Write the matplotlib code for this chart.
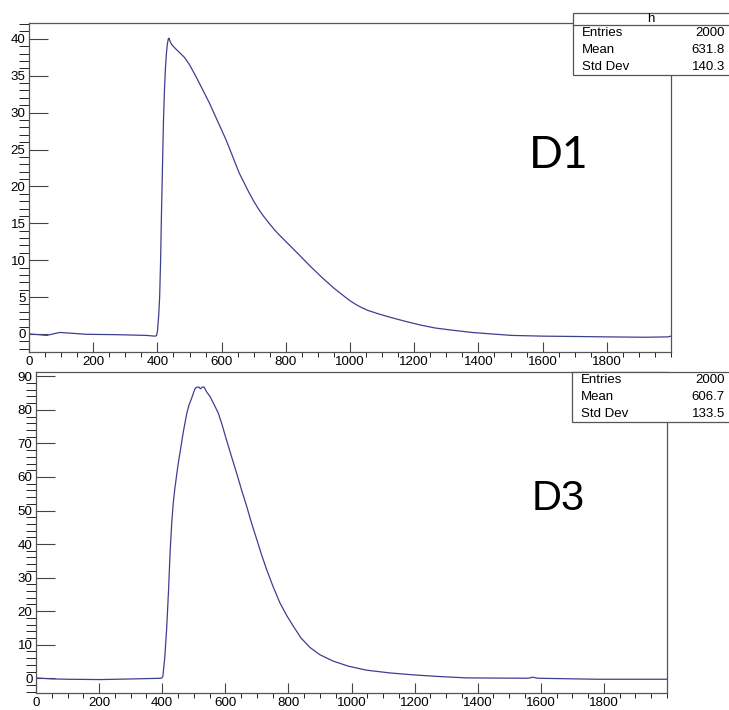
import matplotlib
matplotlib.use("Agg")
import matplotlib.pyplot as plt
from matplotlib.patches import Rectangle
from matplotlib.ticker import MultipleLocator

plt.rcParams['font.family'] = ['Liberation Sans', 'DejaVu Sans']

# D1 waveform (bin position, content)
d1_x = [0, 30, 55, 75, 96, 130, 179, 272, 365, 392, 397, 400, 404, 407, 410, 413, 416, 419,
        422, 425, 428, 431, 434, 436, 440, 445, 458, 470, 484, 500, 520, 540, 562, 588, 614,
        635, 655, 685, 700, 717, 730, 748, 765, 780, 810, 842, 878, 914, 950, 985, 1000,
        1018, 1035, 1055, 1090, 1130, 1173, 1220, 1266, 1320, 1380, 1440, 1504, 1600, 1711,
        1800, 1918, 1990, 2000]
d1_y = [0.0, -0.1, -0.2, 0.0, 0.2, 0.1, -0.05, -0.1, -0.2, -0.3, -0.25, 0.3, 2.5, 5, 10, 17,
        23, 29, 33, 36, 38, 39.3, 40.0, 40.1, 39.6, 39.2, 38.6, 38.1, 37.5, 36.5, 34.9, 33.2,
        31.3, 28.8, 26.3, 24.0, 21.8, 19.2, 18.0, 16.8, 16.0, 15.0, 14.1, 13.4, 12.1, 10.7,
        9.1, 7.6, 6.2, 5.0, 4.5, 4.0, 3.6, 3.2, 2.7, 2.2, 1.7, 1.2, 0.8, 0.5, 0.2, 0.0,
        -0.2, -0.3, -0.35, -0.4, -0.45, -0.4, -0.3]

# D3 waveform
d3_x = [0, 50, 100, 203, 308, 398, 402, 408, 414, 420, 425, 430, 435, 440, 445, 450, 456,
        467, 478, 485, 493, 500, 505, 511, 516, 521, 527, 533, 540, 552, 565, 578, 590, 604,
        620, 636, 652, 668, 684, 700, 715, 731, 752, 773, 794, 815, 840, 868, 900, 942, 990,
        1048, 1120, 1196, 1280, 1365, 1560, 1575, 1590, 1777, 2000]
d3_y = [0.1, -0.2, -0.3, -0.4, -0.2, 0.0, 0.5, 6, 14.6, 26, 37.4, 46, 52.2, 56.5, 60, 63.5,
        67, 73.5, 79, 81.5, 83.4, 85.3, 86.5, 86.8, 86.8, 86.3, 86.8, 86.8, 85.5, 83.9, 81.5,
        79, 75.5, 71, 66, 61.1, 56, 51.2, 46, 41.3, 36.8, 32.4, 27.2, 22.5, 18.8, 15.6, 12.0,
        9.2, 7.0, 5.1, 3.6, 2.4, 1.6, 1.0, 0.5, 0.1, 0.0, 0.3, 0.0, -0.3, -0.3]

stats_labels = ['Entries', 'Mean', 'Std Dev']
d1_stats = ['2000', '631.8', '140.3']
d3_stats = ['2000', '606.7', '133.5']

W, H = 729, 710
fig = plt.figure(figsize=(W / 100, H / 100), dpi=100)


def box(l, t, r, b):
    return [l / W, 1 - b / H, (r - l) / W, (b - t) / H]


def style(ax, ymajor, ylim):
    ax.set_xlim(0, 2000)
    ax.set_ylim(*ylim)
    ax.xaxis.set_minor_locator(MultipleLocator(50))
    ax.yaxis.set_major_locator(MultipleLocator(ymajor))
    ax.yaxis.set_minor_locator(MultipleLocator(ymajor / 5))
    ax.set_xticks(range(0, 2000, 200))
    ax.tick_params(axis='both', direction='in', labelsize=9.6, colors='#444444',
                   labelcolor='black', width=0.8)
    ax.tick_params(axis='x', which='major', length=7.2, pad=3)
    ax.tick_params(axis='x', which='minor', length=3.6)
    ax.tick_params(axis='y', which='major', length=13.7, pad=2.5)
    ax.tick_params(axis='y', which='minor', length=7.2)
    for s in ax.spines.values():
        s.set_color('#555555')
        s.set_linewidth(0.9)


ax1 = fig.add_axes(box(29, 23, 671, 352))
ax1.plot(d1_x, d1_y, color='#3f3f90', lw=0.9)
style(ax1, 5, (-2.45, 42.15))

ax2 = fig.add_axes(box(36, 372, 667, 693))
ax2.plot(d3_x, d3_y, color='#3f3f90', lw=0.9)
style(ax2, 10, (-4.4, 91.3))

fig.text(529 / W, 1 - 155 / H, 'D1', family=['Lato', 'DejaVu Sans'], fontsize=32,
         va='center', ha='left')
fig.text(532 / W, 1 - 499 / H, 'D3', fontsize=30, va='center', ha='left')


def statbox(left, top, rows_top, bottom, values, title=None):
    fig.patches.append(Rectangle((left / W, 1 - bottom / H), (W + 5 - left) / W,
                                 (bottom - top) / H, transform=fig.transFigure,
                                 facecolor='white', edgecolor='#555555', lw=0.9, zorder=5))
    if title is not None:
        fig.text((left + W) / 2 / W, 1 - (top + rows_top) / 2 / H, title, fontsize=9.5,
                 ha='center', va='center', zorder=6)
        fig.lines.append(plt.Line2D([left / W, 1], [1 - rows_top / H] * 2,
                                    transform=fig.transFigure, color='#555555', lw=0.9,
                                    zorder=6))
    step = (bottom - rows_top) / len(values)
    for i, (lab, val) in enumerate(zip(stats_labels, values)):
        y = 1 - (rows_top + step * (i + 0.5)) / H
        fig.text((left + 9) / W, y, lab, fontsize=9.5, ha='left', va='center', zorder=6)
        fig.text(725 / W, y, val, fontsize=9.5, ha='right', va='center', zorder=6)


statbox(573, 13, 25, 75, d1_stats, title='h')
statbox(572, 372, 372, 422, d3_stats)

fig.savefig('out.png', dpi=100)
